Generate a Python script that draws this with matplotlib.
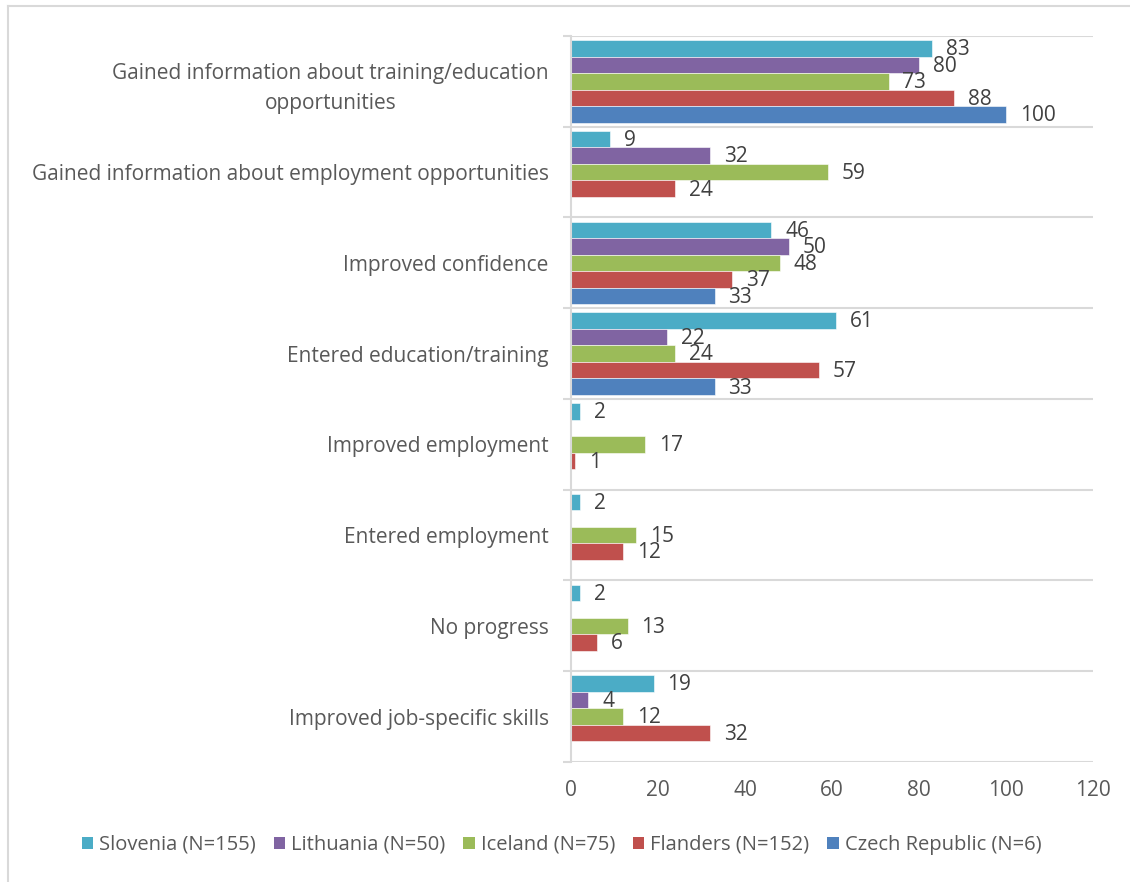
import matplotlib
matplotlib.use('Agg')
import matplotlib.pyplot as plt
import numpy as np
from matplotlib.lines import Line2D
from matplotlib.patches import Patch

# Share of respondents reporting each outcome, by country (%)
categories = [
    'Gained information about training/education\nopportunities',
    'Gained information about employment opportunities',
    'Improved confidence',
    'Entered education/training',
    'Improved employment',
    'Entered employment',
    'No progress',
    'Improved job-specific skills',
]
countries = ['Slovenia (N=155)', 'Lithuania (N=50)', 'Iceland (N=75)',
             'Flanders (N=152)', 'Czech Republic (N=6)']
slovenia = [83, 9, 46, 61, 2, 2, 2, 19]
lithuania = [80, 32, 50, 22, None, None, None, 4]
iceland = [73, 59, 48, 24, 17, 15, 13, 12]
flanders = [88, 24, 37, 57, 1, 12, 6, 32]
czech = [100, None, 33, 33, None, None, None, None]
series = [slovenia, lithuania, iceland, flanders, czech]
colors = ['#4BACC6', '#8064A2', '#9BBB59', '#C0504D', '#4F81BD']
xticks = [0, 20, 40, 60, 80, 100, 120]

plt.rcParams['font.family'] = ['Open Sans', 'DejaVu Sans']
grid_col = '#D9D9D9'
text_col = '#595959'
fs = 15

fig = plt.figure(figsize=(11.3, 8.82), dpi=100)
ax = fig.add_axes([0.5053, 0.1361, 0.4620, 0.8231])

y = np.arange(len(categories))
bar_h = 0.182
for j, (vals, col) in enumerate(zip(series, colors)):
    offs = (j - 2) * bar_h
    for i, v in enumerate(vals):
        if v is None:
            continue
        ax.barh(y[i] + offs, v, height=bar_h, color=col, edgecolor='white',
                linewidth=0.4)
        ax.annotate(str(v), (v, y[i] + offs), xytext=(10, -1),
                    textcoords='offset points', ha='left', va='center',
                    fontsize=fs, color='#404040')

ax.set_xlim(0, 120)
ax.set_ylim(len(categories) - 0.5, -0.5)
ax.set_xticks(xticks)
ax.set_yticks(y)
ax.set_yticklabels(categories, multialignment='center', linespacing=1.55)
ax.set_yticks(np.arange(len(categories) + 1) - 0.5, minor=True)
# nudge the two-line label up a little
ax.get_yticklabels()[0].set_y(-0.03)

ax.tick_params(axis='y', which='major', length=0, pad=16, labelsize=fs,
               labelcolor=text_col)
ax.tick_params(axis='y', which='minor', length=6, width=1.5, color=grid_col)
ax.tick_params(axis='x', length=0, pad=13, labelsize=fs, labelcolor=text_col)
ax.grid(axis='y', which='minor', color=grid_col, linewidth=1.5)
ax.set_axisbelow(True)

for s in ['top', 'right', 'bottom']:
    ax.spines[s].set_visible(False)
ax.spines['left'].set_color(grid_col)
ax.spines['left'].set_linewidth(1.5)

handles = [Patch(facecolor=c, edgecolor='none') for c in colors]
fig.legend(handles, countries, loc='center', bbox_to_anchor=(0.497, 0.042),
           ncol=5, frameon=False, fontsize=14.5, handlelength=0.55,
           handleheight=0.55, handletextpad=0.3, columnspacing=0.9,
           labelcolor=text_col)

# light frame on the left and top edges
fig.add_artist(Line2D([8 / 1130, 8 / 1130], [0, 1 - 6 / 882],
                      transform=fig.transFigure, color=grid_col, linewidth=1.5))
fig.add_artist(Line2D([8 / 1130, 1], [1 - 6 / 882, 1 - 6 / 882],
                      transform=fig.transFigure, color=grid_col, linewidth=1.5))

fig.savefig('out.png', dpi=100)
